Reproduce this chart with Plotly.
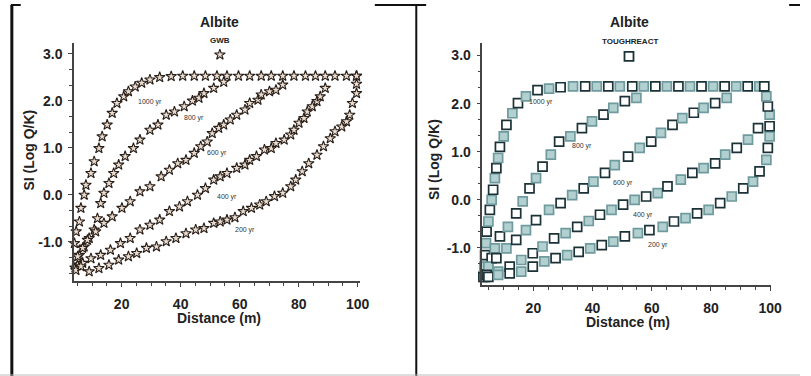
import plotly.graph_objects as go

W, H = 811, 376

# ---------------- data: GWB (left panel) ----------------
years = ["1000 yr", "800 yr", "600 yr", "400 yr", "200 yr"]

gwb_1000_x = [3.8, 4.0, 4.6, 5.7, 6.2, 7.3, 7.9, 9.6, 10.7, 12.3, 13.4, 15.1, 16.8, 18.4, 20.7, 22.3, 24.6, 26.8,
              29.6, 32.9, 36.8, 40.7, 44.6, 48.4, 52.3, 55.7, 59.6, 63.4, 67.3, 70.7, 74.6, 78.4, 82.3, 85.7,
              89.0, 92.3, 96.2, 99.6]
gwb_1000_y = [-1.5, -1.03, -0.78, -0.57, -0.28, 0.0, 0.21, 0.46, 0.71, 0.99, 1.24, 1.49, 1.74, 1.95, 2.09, 2.2,
              2.3, 2.38, 2.45, 2.5, 2.52, 2.53, 2.53, 2.53, 2.53, 2.53, 2.53, 2.53, 2.53, 2.53, 2.53, 2.53, 2.53,
              2.53, 2.53, 2.53, 2.53, 2.53]

gwb_800_x = [5.0, 5.7, 7.3, 9.0, 10.7, 11.8, 12.9, 14.0, 15.7, 17.3, 19.0, 21.2, 24.0, 26.2, 29.6, 32.3, 35.1,
             37.9, 41.2, 44.0, 46.2, 47.9, 51.2, 54.6]
gwb_800_y = [-1.5, -1.28, -1.1, -0.92, -0.74, -0.5, -0.18, 0.04, 0.25, 0.46, 0.64, 0.82, 0.99, 1.17, 1.38, 1.49,
             1.7, 1.77, 1.88, 2.0, 2.06, 2.16, 2.27, 2.4]

gwb_600_x = [4.2, 5.1, 6.8, 8.4, 11.2, 14.0, 16.8, 20.1, 22.9, 26.2, 29.6, 33.4, 36.2, 39.0, 41.8, 44.6, 46.8,
             49.0, 50.7, 52.9, 54.6, 56.8, 59.0, 61.8, 63.4, 66.2, 67.3, 70.1, 72.3, 74.6]
gwb_600_y = [-1.55, -1.31, -1.13, -0.96, -0.78, -0.6, -0.46, -0.28, -0.14, 0.07, 0.18, 0.39, 0.53, 0.67, 0.74,
             0.89, 1.03, 1.13, 1.31, 1.42, 1.49, 1.6, 1.7, 1.81, 1.95, 2.02, 2.13, 2.2, 2.23, 2.34]

gwb_400_x = [4.5, 6.8, 9.6, 12.9, 16.2, 19.6, 22.9, 26.2, 29.6, 32.9, 36.2, 39.6, 42.3, 45.7, 48.4, 51.2, 53.4,
             55.7, 59.0, 61.8, 63.4, 65.7, 68.4, 70.7, 72.3, 75.1, 77.3, 78.4, 80.1, 81.8, 82.9, 84.6, 86.2,
             87.3, 89.0]
gwb_400_y = [-1.6, -1.45, -1.35, -1.28, -1.17, -1.03, -0.92, -0.74, -0.64, -0.53, -0.35, -0.25, -0.14, 0.0,
             0.14, 0.32, 0.39, 0.46, 0.57, 0.64, 0.74, 0.82, 0.96, 0.99, 1.1, 1.17, 1.28, 1.38, 1.53, 1.63,
             1.77, 1.88, 1.99, 2.09, 2.27]

gwb_200_x = [6.2, 9.0, 12.3, 15.7, 19.0, 22.3, 25.1, 28.4, 31.8, 35.1, 38.4, 41.8, 45.1, 47.9, 51.2, 53.4, 55.7,
             58.4, 61.2, 64.0, 66.8, 69.0, 71.8, 74.6, 77.3, 79.0, 81.2, 83.4, 86.2, 88.4, 90.7, 92.3, 94.6,
             96.2, 97.3, 98.2, 99.6, 99.6, 99.6]
gwb_200_y = [-1.52, -1.63, -1.56, -1.49, -1.38, -1.31, -1.24, -1.13, -1.1, -0.99, -0.92, -0.82, -0.74, -0.71,
             -0.6, -0.57, -0.53, -0.48, -0.35, -0.28, -0.21, -0.14, -0.03, 0.04, 0.18, 0.32, 0.5, 0.67, 0.85,
             1.03, 1.2, 1.35, 1.45, 1.56, 1.7, 1.95, 2.16, 2.36, 2.53]

# ---------------- data: TOUGHREACT (right panel) ----------------
tr_1000_x = [3.1, 3.4, 3.7, 4.0, 4.2, 4.8, 5.3, 5.9, 6.4, 7.0, 7.5, 8.1, 8.7, 10.0, 10.9, 12.9, 14.8, 17.5, 21.4,
             25.3, 29.2, 33.4, 37.5, 41.4, 45.3, 49.2, 53.4, 57.3, 61.2, 65.1, 69.0, 72.9, 76.8, 80.7, 84.6,
             88.5, 92.4, 96.3]
tr_1000_y = [-1.6, -1.39, -1.15, -0.9, -0.66, -0.45, -0.21, 0.0, 0.21, 0.45, 0.66, 0.87, 1.1, 1.32, 1.56, 1.8,
             2.01, 2.15, 2.28, 2.31, 2.34, 2.36, 2.36, 2.36, 2.36, 2.36, 2.36, 2.36, 2.36, 2.36, 2.36, 2.36,
             2.36, 2.36, 2.36, 2.36, 2.36, 2.36]

tr_800_x = [3.7, 4.8, 5.9, 7.0, 8.7, 11.4, 14.2, 16.4, 18.7, 20.9, 23.1, 25.9, 28.7, 32.5, 36.4, 39.8, 43.7,
            47.0, 50.9, 54.8]
tr_800_y = [-1.6, -1.42, -1.21, -1.01, -0.76, -0.56, -0.28, -0.03, 0.24, 0.45, 0.69, 0.94, 1.21, 1.32, 1.49,
            1.63, 1.77, 1.91, 2.05, 2.12]

tr_600_x = [3.8, 4.8, 7.5, 10.9, 14.2, 17.5, 20.9, 25.3, 29.2, 33.1, 37.0, 40.3, 44.2, 47.5, 52.0, 55.9, 59.8,
            63.1, 67.0, 70.3, 74.2, 77.5, 81.4, 85.3]
tr_600_y = [-1.55, -1.39, -1.21, -1.01, -0.83, -0.63, -0.42, -0.21, -0.07, 0.1, 0.24, 0.38, 0.56, 0.72, 0.9,
            1.08, 1.21, 1.39, 1.56, 1.7, 1.81, 1.91, 2.01, 2.12]

tr_400_x = [4.2, 8.1, 12.0, 15.9, 19.8, 23.1, 27.0, 30.9, 34.8, 38.7, 42.5, 46.4, 50.3, 54.2, 58.1, 62.0, 65.3,
            69.8, 73.7, 77.5, 81.4, 84.8, 88.7, 92.5, 95.9]
tr_400_y = [-1.56, -1.49, -1.39, -1.25, -1.11, -0.97, -0.8, -0.69, -0.56, -0.44, -0.31, -0.21, -0.1, 0.0, 0.07,
            0.14, 0.28, 0.42, 0.56, 0.66, 0.76, 0.94, 1.08, 1.25, 1.49]

tr_200_x = [4.8, 8.1, 12.0, 15.9, 19.8, 23.7, 27.5, 31.4, 35.3, 39.2, 43.1, 47.0, 50.9, 55.3, 59.2, 63.7, 67.5,
            71.4, 75.3, 79.2, 83.1, 87.0, 90.9, 94.2, 96.4, 98.7, 99.2, 99.8, 99.8, 99.8, 99.2, 98.7, 98.0]
tr_200_y = [-1.6, -1.56, -1.53, -1.49, -1.39, -1.28, -1.21, -1.15, -1.08, -1.01, -0.94, -0.87, -0.76, -0.69,
            -0.63, -0.56, -0.45, -0.38, -0.28, -0.21, -0.07, 0.07, 0.24, 0.38, 0.59, 0.83, 1.08, 1.32, 1.53,
            1.77, 1.94, 2.15, 2.36]

# label positions (data coords) for the curve annotations
gwb_label_x = [29.6, 44.6, 52.3, 55.7, 61.8]
gwb_label_y = [1.98, 1.63, 0.89, -0.04, -0.74]
tr_label_x = [22.5, 36.4, 50.3, 57.0, 62.0]
tr_label_y = [2.03, 1.11, 0.36, -0.31, -0.94]

x_ticks = [20, 40, 60, 80, 100]
y_ticks = [-1.0, 0.0, 1.0, 2.0, 3.0]
y_tick_text = ["-1.0", "0.0", "1.0", "2.0", "3.0"]

# ---------------- figure ----------------
FONT = "Arial, Liberation Sans, sans-serif"
fig = go.Figure()

gwb_series = [(gwb_1000_x, gwb_1000_y), (gwb_800_x, gwb_800_y), (gwb_600_x, gwb_600_y),
              (gwb_400_x, gwb_400_y), (gwb_200_x, gwb_200_y)]
tr_series = [(tr_1000_x, tr_1000_y), (tr_800_x, tr_800_y), (tr_600_x, tr_600_y),
             (tr_400_x, tr_400_y), (tr_200_x, tr_200_y)]

star_marker = dict(symbol="star", size=8, color="#e9ddd0", line=dict(color="#2a1e18", width=1.1))

for (xs, ys), name in zip(gwb_series, years):
    fig.add_trace(go.Scatter(x=xs, y=ys, mode="markers", name="GWB " + name, marker=star_marker,
                             cliponaxis=False, showlegend=False, xaxis="x", yaxis="y"))

for (xs, ys), name in zip(tr_series, years):
    n = len(xs)
    fills = ["#ffffff" if i % 2 == 0 else "#b3d0d0" for i in range(n)]
    lines = ["#1b3237" if i % 2 == 0 else "#6f9b9f" for i in range(n)]
    fig.add_trace(go.Scatter(x=xs, y=ys, mode="markers", name="TOUGHREACT " + name,
                             marker=dict(symbol="square", size=9, color=fills,
                                         line=dict(color=lines, width=1.7)),
                             cliponaxis=False, showlegend=False, xaxis="x2", yaxis="y2"))

# legend keys (single symbols under the model names)
fig.add_trace(go.Scatter(x=[53.3], y=[2.98], mode="markers", marker=star_marker, cliponaxis=False,
                         showlegend=False, xaxis="x", yaxis="y", hoverinfo="skip"))
fig.add_trace(go.Scatter(x=[52.3], y=[2.98], mode="markers",
                         marker=dict(symbol="square", size=9, color="#ffffff",
                                     line=dict(color="#1b3237", width=1.8)),
                         cliponaxis=False, showlegend=False, xaxis="x2", yaxis="y2", hoverinfo="skip"))

def px(x):
    return x / W

def py(y):
    return 1 - y / H

axis_common = dict(showline=True, linecolor="#444", linewidth=1.5, showgrid=False, zeroline=False,
                   ticks="outside", ticklen=4, tickcolor="#444", tickwidth=1,
                   tickfont=dict(family=FONT, size=14, color="#222", weight="bold"))

minor_y = [-1.667, -1.333, -0.667, -0.333, 0.333, 0.667, 1.333, 1.667, 2.333, 2.667]

fig.update_layout(
    width=W, height=H, margin=dict(l=0, r=0, t=0, b=0),
    paper_bgcolor="white", plot_bgcolor="white", showlegend=False,
    xaxis=dict(domain=[px(75), px(365)], range=[3.85, 100.8], anchor="y",
               tickvals=x_ticks, ticklabelstandoff=5,
               minor=dict(tickvals=list(range(5, 101, 5)), ticks="outside", ticklen=3, tickcolor="#444"),
               **axis_common),
    yaxis=dict(domain=[py(281), py(43)], range=[-1.83, 3.23], anchor="x",
               tickvals=y_ticks, ticktext=y_tick_text, ticklabelstandoff=3,
               minor=dict(tickvals=minor_y, ticks="outside", ticklen=3, tickcolor="#444"),
               **axis_common),
    xaxis2=dict(domain=[px(489), px(782)], range=[2.77, 100.4], anchor="y2",
                tickvals=x_ticks, ticklabelstandoff=5,
                minor=dict(tickvals=list(range(5, 101, 5)), ticks="outside", ticklen=3, tickcolor="#444"),
                **axis_common),
    yaxis2=dict(domain=[py(285), py(43)], range=[-1.77, 3.26], anchor="x2",
                tickvals=y_ticks, ticktext=y_tick_text, ticklabelstandoff=3,
                minor=dict(tickvals=minor_y, ticks="outside", ticklen=3, tickcolor="#444"),
                **axis_common),
)

ann = []
def text(x, y, s, size, bold=True, angle=0, color="#222"):
    ann.append(dict(x=px(x), y=py(y), xref="paper", yref="paper", text=s, showarrow=False,
                    xanchor="center", yanchor="middle", textangle=angle,
                    font=dict(family=FONT, size=size, color=color, weight="bold" if bold else "normal")))

# titles
text(223, 22, "Albite", 14)
text(223, 40, "GWB", 8)
text(638, 22, "Albite", 14)
text(639, 41, "TOUGHREACT", 8)
# axis titles
text(222, 318, "Distance (m)", 14)
text(637, 322, "Distance (m)", 14)
text(29, 150, "SI (Log Q/K)", 14, angle=-90)
text(440, 160, "SI (Log Q/K)", 14, angle=-90)

for lx, ly, s in zip(gwb_label_x, gwb_label_y, years):
    ann.append(dict(x=lx, y=ly, xref="x", yref="y", text=s, showarrow=False,
                    font=dict(family=FONT, size=7, color="#333")))
for lx, ly, s in zip(tr_label_x, tr_label_y, years):
    ann.append(dict(x=lx, y=ly, xref="x2", yref="y2", text=s, showarrow=False,
                    font=dict(family=FONT, size=7, color="#333")))
fig.update_layout(annotations=ann)

# frame lines around the panels
shapes = []
def seg(x0, y0, x1, y1, w, c="#111"):
    shapes.append(dict(type="line", xref="paper", yref="paper", x0=px(x0), y0=py(y0), x1=px(x1), y1=py(y1),
                       line=dict(color=c, width=w)))

seg(12, 5, 12, 376, 3)
seg(11, 5, 21, 5, 2)
seg(380, 5, 432, 5, 2)
seg(422, 5, 422, 376, 2)
seg(800, 5, 811, 5, 2)
seg(0, 375, 811, 375, 1, "#bbb")
fig.update_layout(shapes=shapes)

fig.write_html("out.html")
